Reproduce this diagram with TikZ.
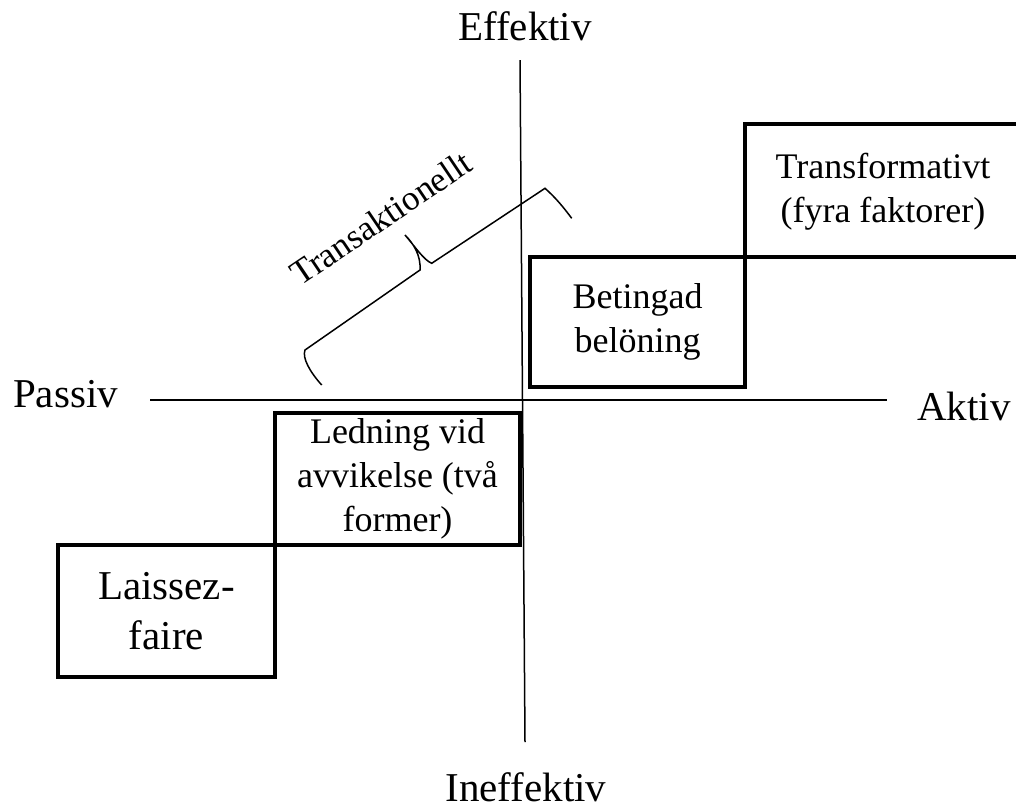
\documentclass[tikz,border=0pt]{standalone}
\usepackage{fontspec}
\setmainfont{Liberation Serif}
\newfontfamily\timesfont{Liberation Serif}
\begin{document}
\begin{tikzpicture}[x=1pt,y=-1pt,
  axislbl/.style={inner sep=0pt,font=\timesfont\fontsize{41}{50}\selectfont},
  stylebox/.style={draw,line width=4pt,inner sep=0pt,align=center,font=\timesfont\fontsize{36}{44}\selectfont},
  axisline/.style={line width=1.5pt},
  bracepath/.style={line width=1.5pt,line join=miter}]
\useasboundingbox (0,0) rectangle (1016,807);
% axes
\coordinate (vtop) at (520,60);
\coordinate (vbot) at (525,742);
\coordinate (hl) at (150,400);
\coordinate (hr) at (887,400);
\draw[axisline] (vtop) -- (vbot);
\draw[axisline] (hl) -- (hr);
% axis labels
\node[axislbl,anchor=base] (eff) at (525,40) {Effektiv};
\node[axislbl,anchor=base] (ineff) at (526,801) {Ineffektiv};
\node[axislbl,anchor=base west] (pas) at (13,407) {Passiv};
\node[axislbl,anchor=base west] (akt) at (917,420) {Aktiv};
% boxes
\node[stylebox,minimum width=217pt,minimum height=132pt,font=\timesfont\fontsize{41}{50}\selectfont] (lf) at (166.5,611) {Laissez-\\faire};
\node[stylebox,minimum width=245pt,minimum height=132pt] (lv) at (397.5,479) {Ledning vid\\avvikelse (två\\former)};
\node[stylebox,minimum width=215pt,minimum height=130pt] (bb) at (637.5,322) {Betingad\\belöning};
\node[stylebox,minimum width=281pt,minimum height=133pt] (tf) at (885.5,190.5) {};
\node[inner sep=0pt,align=center,font=\timesfont\fontsize{36}{44}\selectfont] (tft) at (883,192) {Transformativt\\(fyra faktorer)};
% brace
\coordinate (ba) at (321.7,385);
\coordinate (bc1) at (305,350);
\coordinate (bm1) at (420,270);
\coordinate (bp) at (405,235);
\coordinate (bm2) at (431.7,263.3);
\coordinate (bc2) at (545,188.3);
\coordinate (bb2) at (571.7,218.3);
\draw[bracepath] (ba) .. controls (310,372) and (302,358) .. (bc1) -- (bm1)
  .. controls (421,256) and (414,244) .. (bp)
  .. controls (416,248) and (424,260) .. (bm2) -- (bc2)
  .. controls (556,198) and (564,208) .. (bb2);
\node[inner sep=0pt,rotate=34,font=\timesfont\fontsize{35}{42}\selectfont] (tr) at (381,218) {Transaktionellt};
\end{tikzpicture}
\end{document}
